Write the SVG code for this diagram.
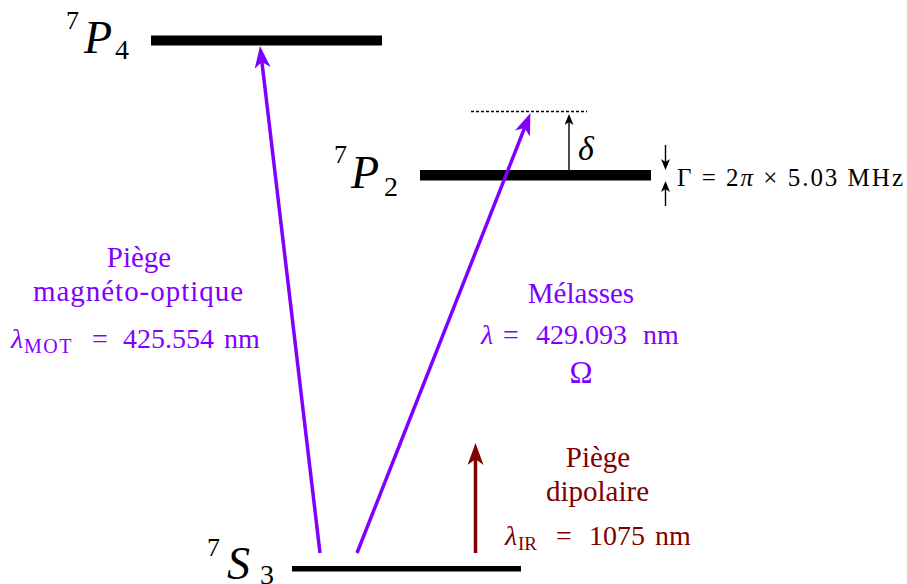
<svg xmlns="http://www.w3.org/2000/svg" width="907" height="584" viewBox="0 0 907 584">
<style>
text{font-family:'Liberation Serif','Times New Roman',serif}
.it{font-style:italic}
.pur{fill:#7F00FF}
.red{fill:#7F0000}
.blk{fill:#000}
.lvl{fill:#000}
.arP{stroke:#7F00FF;stroke-width:3.5}
.arR{stroke:#7F0000;stroke-width:3.5}
.arK{stroke:#000;stroke-width:1.4}
</style>
<defs>
<marker id="hp" markerUnits="userSpaceOnUse" markerWidth="24" markerHeight="18" refX="6" refY="8" orient="auto">
<path d="M0,0 L22,8 L0,16 L6,8 Z" fill="#7F00FF"/>
</marker>
<marker id="hr" markerUnits="userSpaceOnUse" markerWidth="24" markerHeight="18" refX="6" refY="8" orient="auto">
<path d="M0,0 L22,8 L0,16 L6,8 Z" fill="#7F0000"/>
</marker>
<marker id="hk" markerUnits="userSpaceOnUse" markerWidth="12" markerHeight="10" refX="3" refY="4.5" orient="auto">
<path d="M0,0 L11,4.5 L0,9 L3,4.5 Z" fill="#000"/>
</marker>
</defs>

<g id="level-7P4">
<rect x="151" y="35.5" width="231" height="10" class="lvl"/>
<text class="blk" font-size="26" x="66" y="29">7</text>
<text class="blk it" font-size="46" x="84" y="53">P</text>
<text class="blk" font-size="28" x="115" y="59">4</text>
</g>

<g id="level-7P2">
<rect x="420" y="170" width="231" height="10.5" class="lvl"/>
<text class="blk" font-size="26" x="334" y="163">7</text>
<text class="blk it" font-size="46" x="351" y="188">P</text>
<text class="blk" font-size="28" x="384" y="196">2</text>
</g>

<g id="level-7S3">
<rect x="292" y="566" width="229" height="5.5" class="lvl"/>
<text class="blk" font-size="26" x="207" y="556">7</text>
<text class="blk it" font-size="46" x="227" y="579">S</text>
<text class="blk" font-size="28" x="260" y="584">3</text>
</g>

<g id="detuning">
<line x1="471" y1="111.5" x2="587" y2="111.5" stroke="#000" stroke-width="1.3" stroke-dasharray="3,2"/>
<text class="blk it" font-size="34" x="578" y="160">δ</text>
</g>

<g id="linewidth">
<text class="blk" font-size="25" x="677" y="186" textLength="226" lengthAdjust="spacing">Γ = 2<tspan class="it">π</tspan> × 5.03 MHz</text>
</g>

<g id="label-mot">
<text class="pur" font-size="29" x="139" y="267" text-anchor="middle">Piège</text>
<text class="pur" font-size="29" x="33" y="301" textLength="210" lengthAdjust="spacing">magnéto-optique</text>
<text class="pur" font-size="28" y="348"><tspan x="11" class="it">λ</tspan><tspan x="24" dy="5" font-size="20" letter-spacing="1.5">MOT</tspan><tspan x="92" dy="-5">=</tspan><tspan x="123">425.554</tspan><tspan x="224">nm</tspan></text>
</g>

<g id="label-melasses">
<text class="pur" font-size="29" x="581" y="303" text-anchor="middle">Mélasses</text>
<text class="pur" font-size="28" y="344"><tspan x="481" class="it">λ</tspan><tspan x="503">=</tspan><tspan x="536">429.093</tspan><tspan x="643">nm</tspan></text>
<text class="pur" font-size="31" x="581" y="383" text-anchor="middle">Ω</text>
</g>

<g id="label-dipole">
<text class="red" font-size="29" x="598" y="467" text-anchor="middle">Piège</text>
<text class="red" font-size="29" x="597.5" y="501" text-anchor="middle">dipolaire</text>
<text class="red" font-size="28" y="545"><tspan x="505" class="it">λ</tspan><tspan x="518" dy="5" font-size="19">IR</tspan><tspan x="556" dy="-5">=</tspan><tspan x="589">1075</tspan><tspan x="655">nm</tspan></text>
</g>

<g id="connectors">
<line x1="320" y1="553" x2="261.9" y2="61.9" class="arP" marker-end="url(#hp)"/>
<line x1="357" y1="553" x2="524.6" y2="127.9" class="arP" marker-end="url(#hp)"/>
<line x1="475.5" y1="553" x2="475.5" y2="459" class="arR" marker-end="url(#hr)"/>
<line x1="569" y1="170" x2="569" y2="122" class="arK" marker-end="url(#hk)"/>
<line x1="665.5" y1="145" x2="665.5" y2="162" class="arK" marker-end="url(#hk)"/>
<line x1="665.5" y1="206" x2="665.5" y2="189" class="arK" marker-end="url(#hk)"/>
</g>
</svg>
